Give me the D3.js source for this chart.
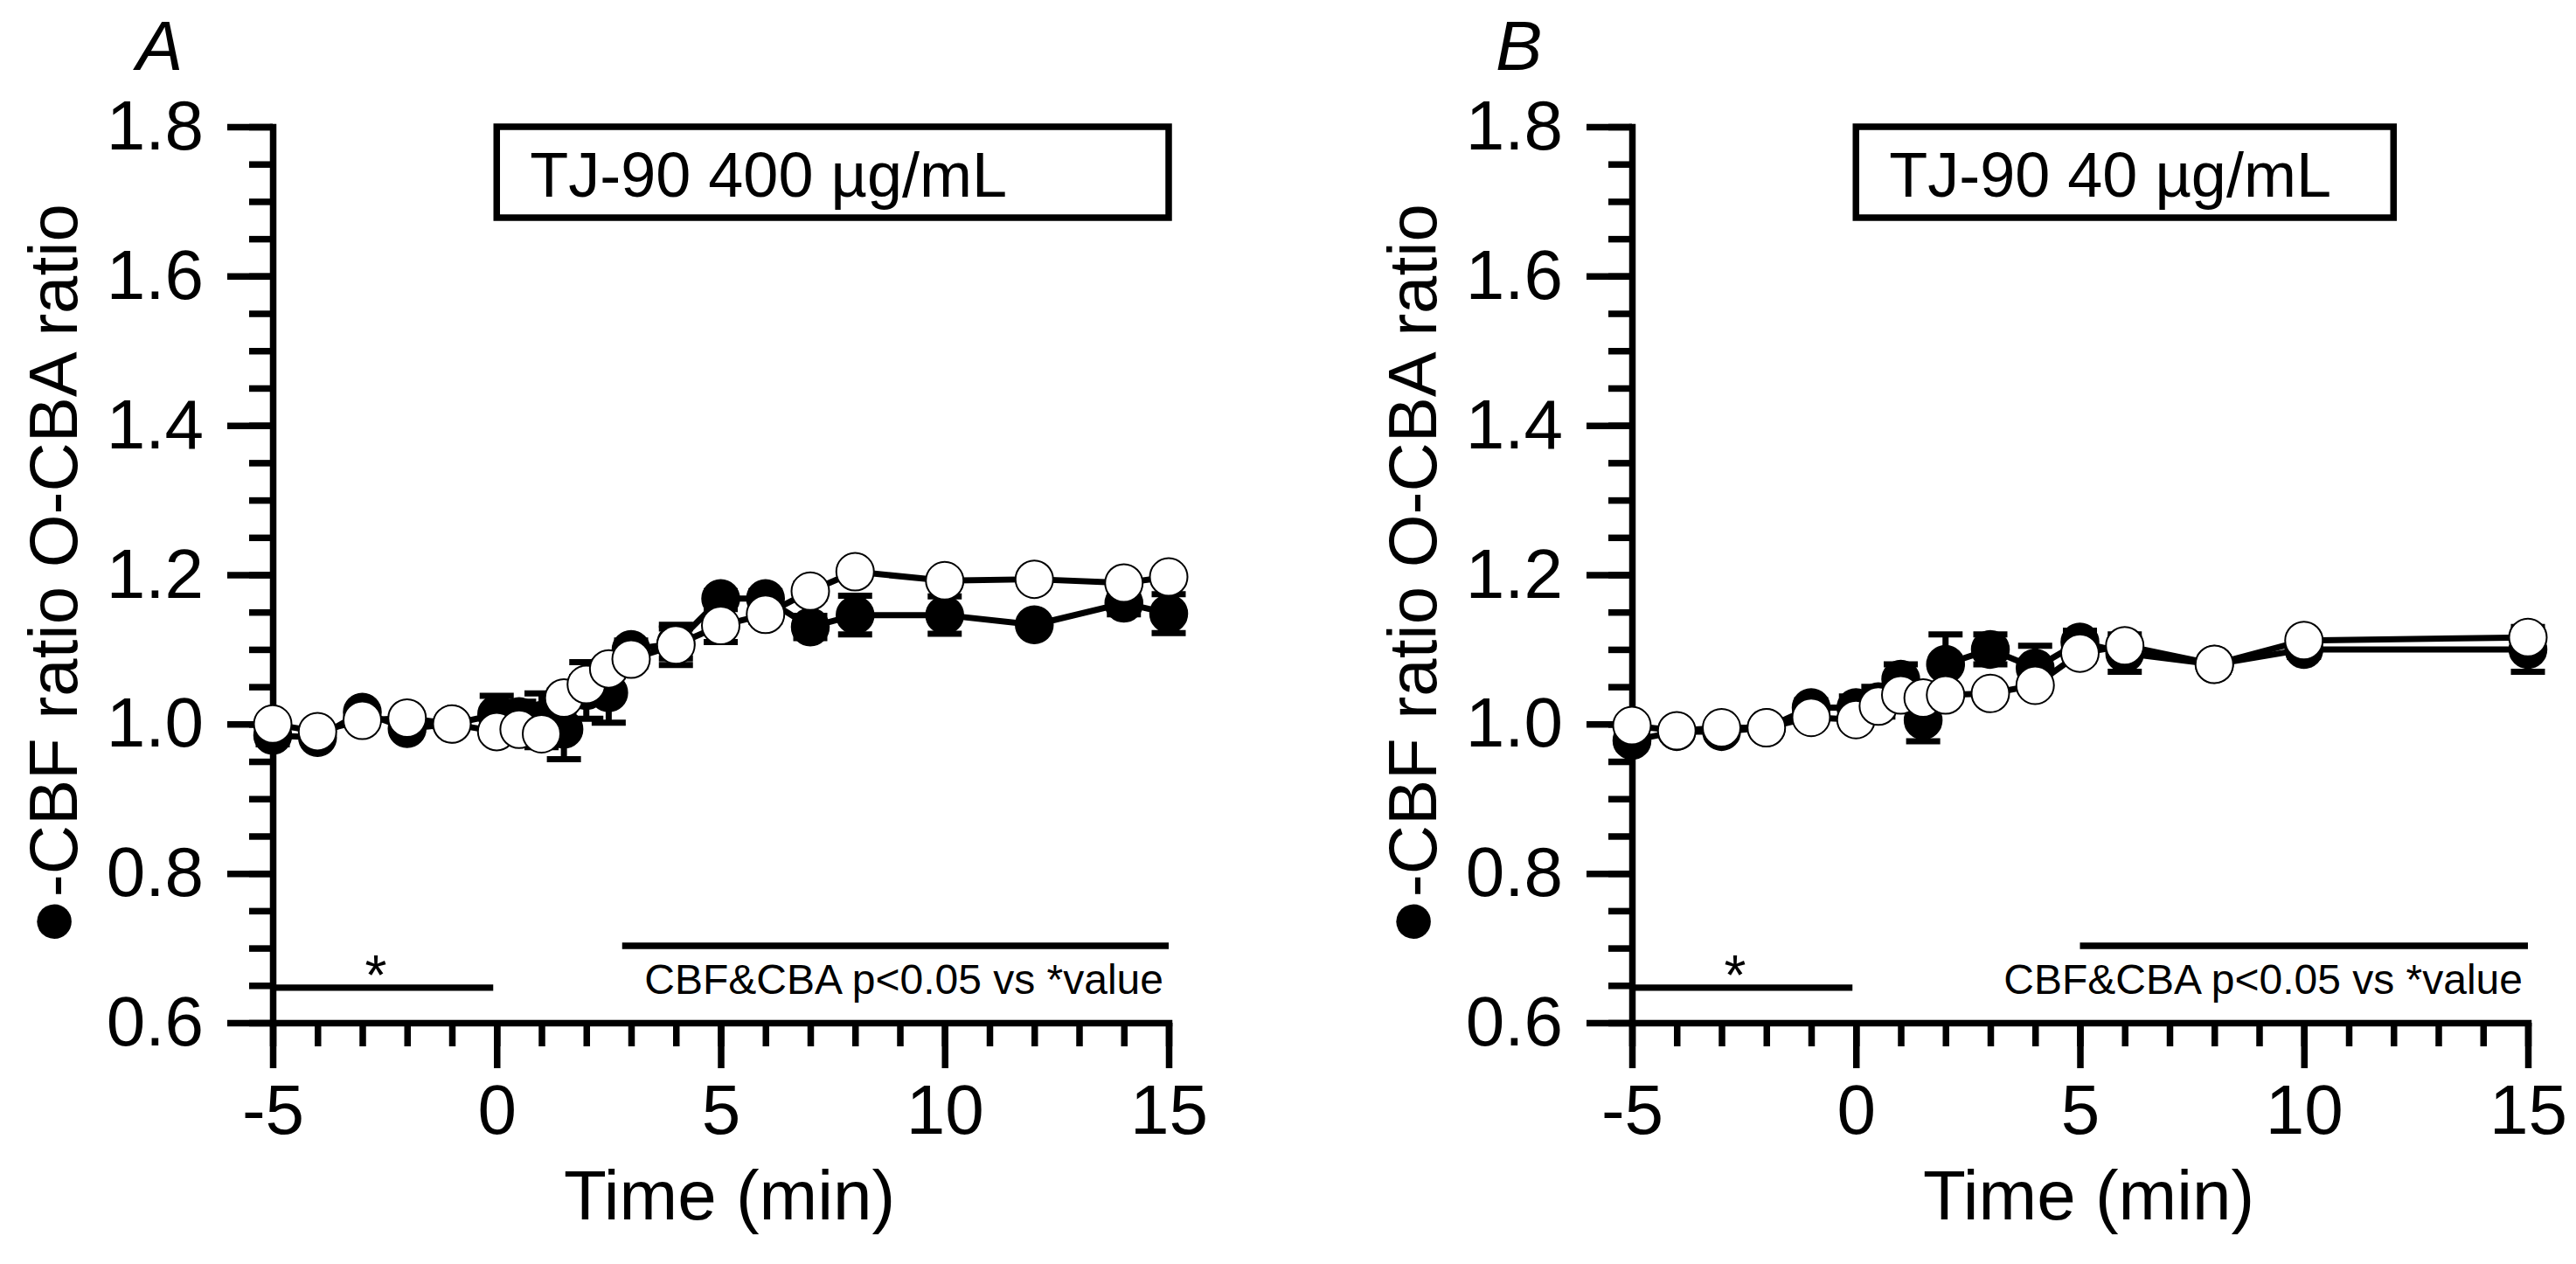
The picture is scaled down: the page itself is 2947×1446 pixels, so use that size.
<!DOCTYPE html>
<html>
<head>
<meta charset="utf-8">
<title>CBF / CBA ratio</title>
<style>
body{margin:0;background:#fff;}
text{font-family:"Liberation Sans",Arial,sans-serif;fill:#000;}
.axis path,.axis line{stroke:#000;stroke-width:7.5px;fill:none;}
.axis path{stroke-linecap:square;}
.axis text{font-size:80px;}
.series{fill:none;stroke:#000;stroke-width:7px;stroke-linejoin:round;}
.err{stroke:#000;stroke-width:7px;}
.dotF{fill:#000;stroke:#000;stroke-width:1.5px;}
.dotO{fill:#fff;stroke:#000;stroke-width:2px;}
.box{fill:#fff;stroke:#000;stroke-width:7.5px;}
.mark{stroke:#000;stroke-width:7.3px;}
</style>
</head>
<body>
<script src="https://d3js.org/d3.v7.min.js"></script>
<script>

// ---- data ----
var xTicks = [-5, 0, 5, 10, 15];
var yTicks = [0.6, 0.8, 1.0, 1.2, 1.4, 1.6, 1.8];

// panel A : TJ-90 400 ug/mL
var timeA = [-5,-4,-3,-2,-1,0,0.5,1,1.5,2,2.5,3,4,5,6,7,8,10,12,14,15];
var cbfA  = [0.985,0.982,1.016,0.994,1.0,1.013,1.01,1.005,0.993,1.045,1.042,1.10,1.108,1.168,1.168,1.13,1.146,1.146,1.133,1.162,1.148];
var cbfAe = [0.012,0.005,0.006,0.006,0.006,0.025,0.02,0.036,0.04,0.038,0.04,0.012,0.02,0.01,0.01,0.015,0.026,0.025,0.008,0.015,0.026];
var cbaA  = [1.0,0.99,1.005,1.008,1.0,0.99,0.993,0.987,1.035,1.053,1.074,1.087,1.106,1.132,1.147,1.178,1.204,1.192,1.194,1.189,1.197];
var cbaAe = [0.006,0.005,0.005,0.005,0.005,0.006,0.006,0.006,0.01,0.01,0.01,0.01,0.027,0.022,0.01,0.01,0.008,0.008,0.006,0.008,0.008];

// panel B : TJ-90 40 ug/mL
var timeB = [-5,-4,-3,-2,-1,0,0.5,1,1.5,2,3,4,5,6,8,10,15];
var cbfB  = [0.978,0.99,0.99,0.995,1.022,1.022,1.03,1.06,1.005,1.08,1.10,1.075,1.11,1.095,1.08,1.10,1.10];
var cbfBe = [0.006,0.005,0.005,0.005,0.01,0.015,0.02,0.02,0.028,0.04,0.02,0.03,0.015,0.025,0.01,0.01,0.03];
var cbaB  = [0.998,0.991,0.995,0.995,1.009,1.006,1.024,1.039,1.035,1.039,1.041,1.052,1.095,1.105,1.08,1.112,1.116];
var cbaBe = [0.005,0.005,0.005,0.005,0.006,0.006,0.006,0.008,0.008,0.008,0.008,0.008,0.01,0.01,0.008,0.008,0.008];

var panelLabels = ["A", "B"];
var boxTexts = ["TJ-90 400 \u00b5g/mL", "TJ-90 40 \u00b5g/mL"];
var boxEnds = [15, 12];          // box right edge, in minutes
var sigStarts = [2.8, 5];        // start of the p<0.05 bar, in minutes
var sigText = "CBF&CBA p<0.05 vs *value";
var yTitleParts = ["\u25cf", "-CBF ratio O-CBA ratio"];

var panels = [
  {t: timeA, f: cbfA, fe: cbfAe, o: cbaA, oe: cbaAe},
  {t: timeB, f: cbfB, fe: cbfBe, o: cbaB, oe: cbaBe}
];

var W = 2947, H = 1446;
var svg = d3.select("body").append("svg").attr("width", W).attr("height", H);

var left0 = [312, 1867];
var plotTop = 145, plotBottom = 1170, plotW = 1025;

var y = d3.scaleLinear().domain([0.6, 1.8]).range([plotBottom, plotTop]);

panels.forEach(function(p, i){
	var x = d3.scaleLinear().domain([-5, 15]).range([left0[i], left0[i] + plotW]);
	var g = svg.append("g");

	// minor ticks
	g.append("g").attr("class","axis").attr("transform","translate(0,"+plotBottom+")")
		.call(d3.axisBottom(x).tickValues(d3.range(-5, 16, 1)).tickSize(27).tickSizeOuter(0).tickFormat(""))
		.select(".domain").remove();
	g.append("g").attr("class","axis").attr("transform","translate("+left0[i]+",0)")
		.call(d3.axisLeft(y).tickValues(d3.range(0.6, 1.801, 0.05)).tickSize(27).tickSizeOuter(0).tickFormat(""))
		.select(".domain").remove();

	// major ticks + labels
	g.append("g").attr("class","axis").attr("transform","translate(0,"+plotBottom+")")
		.call(d3.axisBottom(x).tickValues(xTicks).tickSize(52).tickSizeOuter(0).tickPadding(18).tickFormat(function(d){ return String(d); }));
	g.append("g").attr("class","axis").attr("transform","translate("+left0[i]+",0)")
		.call(d3.axisLeft(y).tickValues(yTicks).tickSize(52).tickSizeOuter(0).tickPadding(27).tickFormat(d3.format(".1f")));
	g.selectAll(".axis text").attr("fill","#000");

	// panel letter
	g.append("text").attr("x", left0[i] - 156).attr("y", 80)
		.style("font-size","80px").style("font-style","italic").text(panelLabels[i]);

	// y title
	var yt = g.append("text").attr("transform","translate("+(left0[i] - 224)+","+((plotTop+plotBottom)/2)+") rotate(-90)")
		.attr("text-anchor","middle").style("font-size","78px");
	yt.append("tspan").style("font-size","92px").text(yTitleParts[0]);
	yt.append("tspan").text(yTitleParts[1]);

	// x title
	g.append("text").attr("x", left0[i] + plotW/2 + 10).attr("y", 1395)
		.attr("text-anchor","middle").style("font-size","80px").text("Time (min)");

	// dose box
	g.append("rect").attr("class","box")
		.attr("x", x(0)).attr("y", plotTop)
		.attr("width", x(boxEnds[i]) - x(0)).attr("height", 104);
	g.append("text").attr("x", x(0) + 38).attr("y", 225)
		.style("font-size","72px").text(boxTexts[i]);

	// baseline bar with star
	g.append("line").attr("class","mark")
		.attr("x1", x(-5)).attr("x2", x(0) - 4).attr("y1", y(0.647)).attr("y2", y(0.647));
	g.append("text").attr("x", x(-2.7)).attr("y", 1138).attr("text-anchor","middle")
		.style("font-size","64px").text("*");

	// significance bar
	g.append("line").attr("class","mark")
		.attr("x1", x(sigStarts[i])).attr("x2", x(15)).attr("y1", y(0.703)).attr("y2", y(0.703));
	g.append("text").attr("x", x(15) - 6).attr("y", 1137).attr("text-anchor","end")
		.style("font-size","48px").text(sigText);

	// series
	var idx = d3.range(p.t.length);
	var lineF = d3.line().x(function(k){ return x(p.t[k]); }).y(function(k){ return y(p.f[k]); });
	var lineO = d3.line().x(function(k){ return x(p.t[k]); }).y(function(k){ return y(p.o[k]); });

	g.append("path").attr("class","series").attr("d", lineF(idx));
	g.append("path").attr("class","series").attr("d", lineO(idx));

	[[p.f, p.fe], [p.o, p.oe]].forEach(function(s){
		var eg = g.append("g");
		idx.forEach(function(k){
			var cx = x(p.t[k]), lo = y(s[0][k] - s[1][k]), hi = y(s[0][k] + s[1][k]);
			eg.append("line").attr("class","err").attr("x1",cx).attr("x2",cx).attr("y1",lo).attr("y2",hi);
			eg.append("line").attr("class","err").attr("x1",cx-19.5).attr("x2",cx+19.5).attr("y1",lo).attr("y2",lo);
			eg.append("line").attr("class","err").attr("x1",cx-19.5).attr("x2",cx+19.5).attr("y1",hi).attr("y2",hi);
		});
	});

	g.append("g").selectAll("circle").data(idx).join("circle").attr("class","dotF")
		.attr("cx", function(k){ return x(p.t[k]); }).attr("cy", function(k){ return y(p.f[k]); }).attr("r", 21.5);
	g.append("g").selectAll("circle").data(idx).join("circle").attr("class","dotO")
		.attr("cx", function(k){ return x(p.t[k]); }).attr("cy", function(k){ return y(p.o[k]); }).attr("r", 21.5);
});

</script>
</body>
</html>
